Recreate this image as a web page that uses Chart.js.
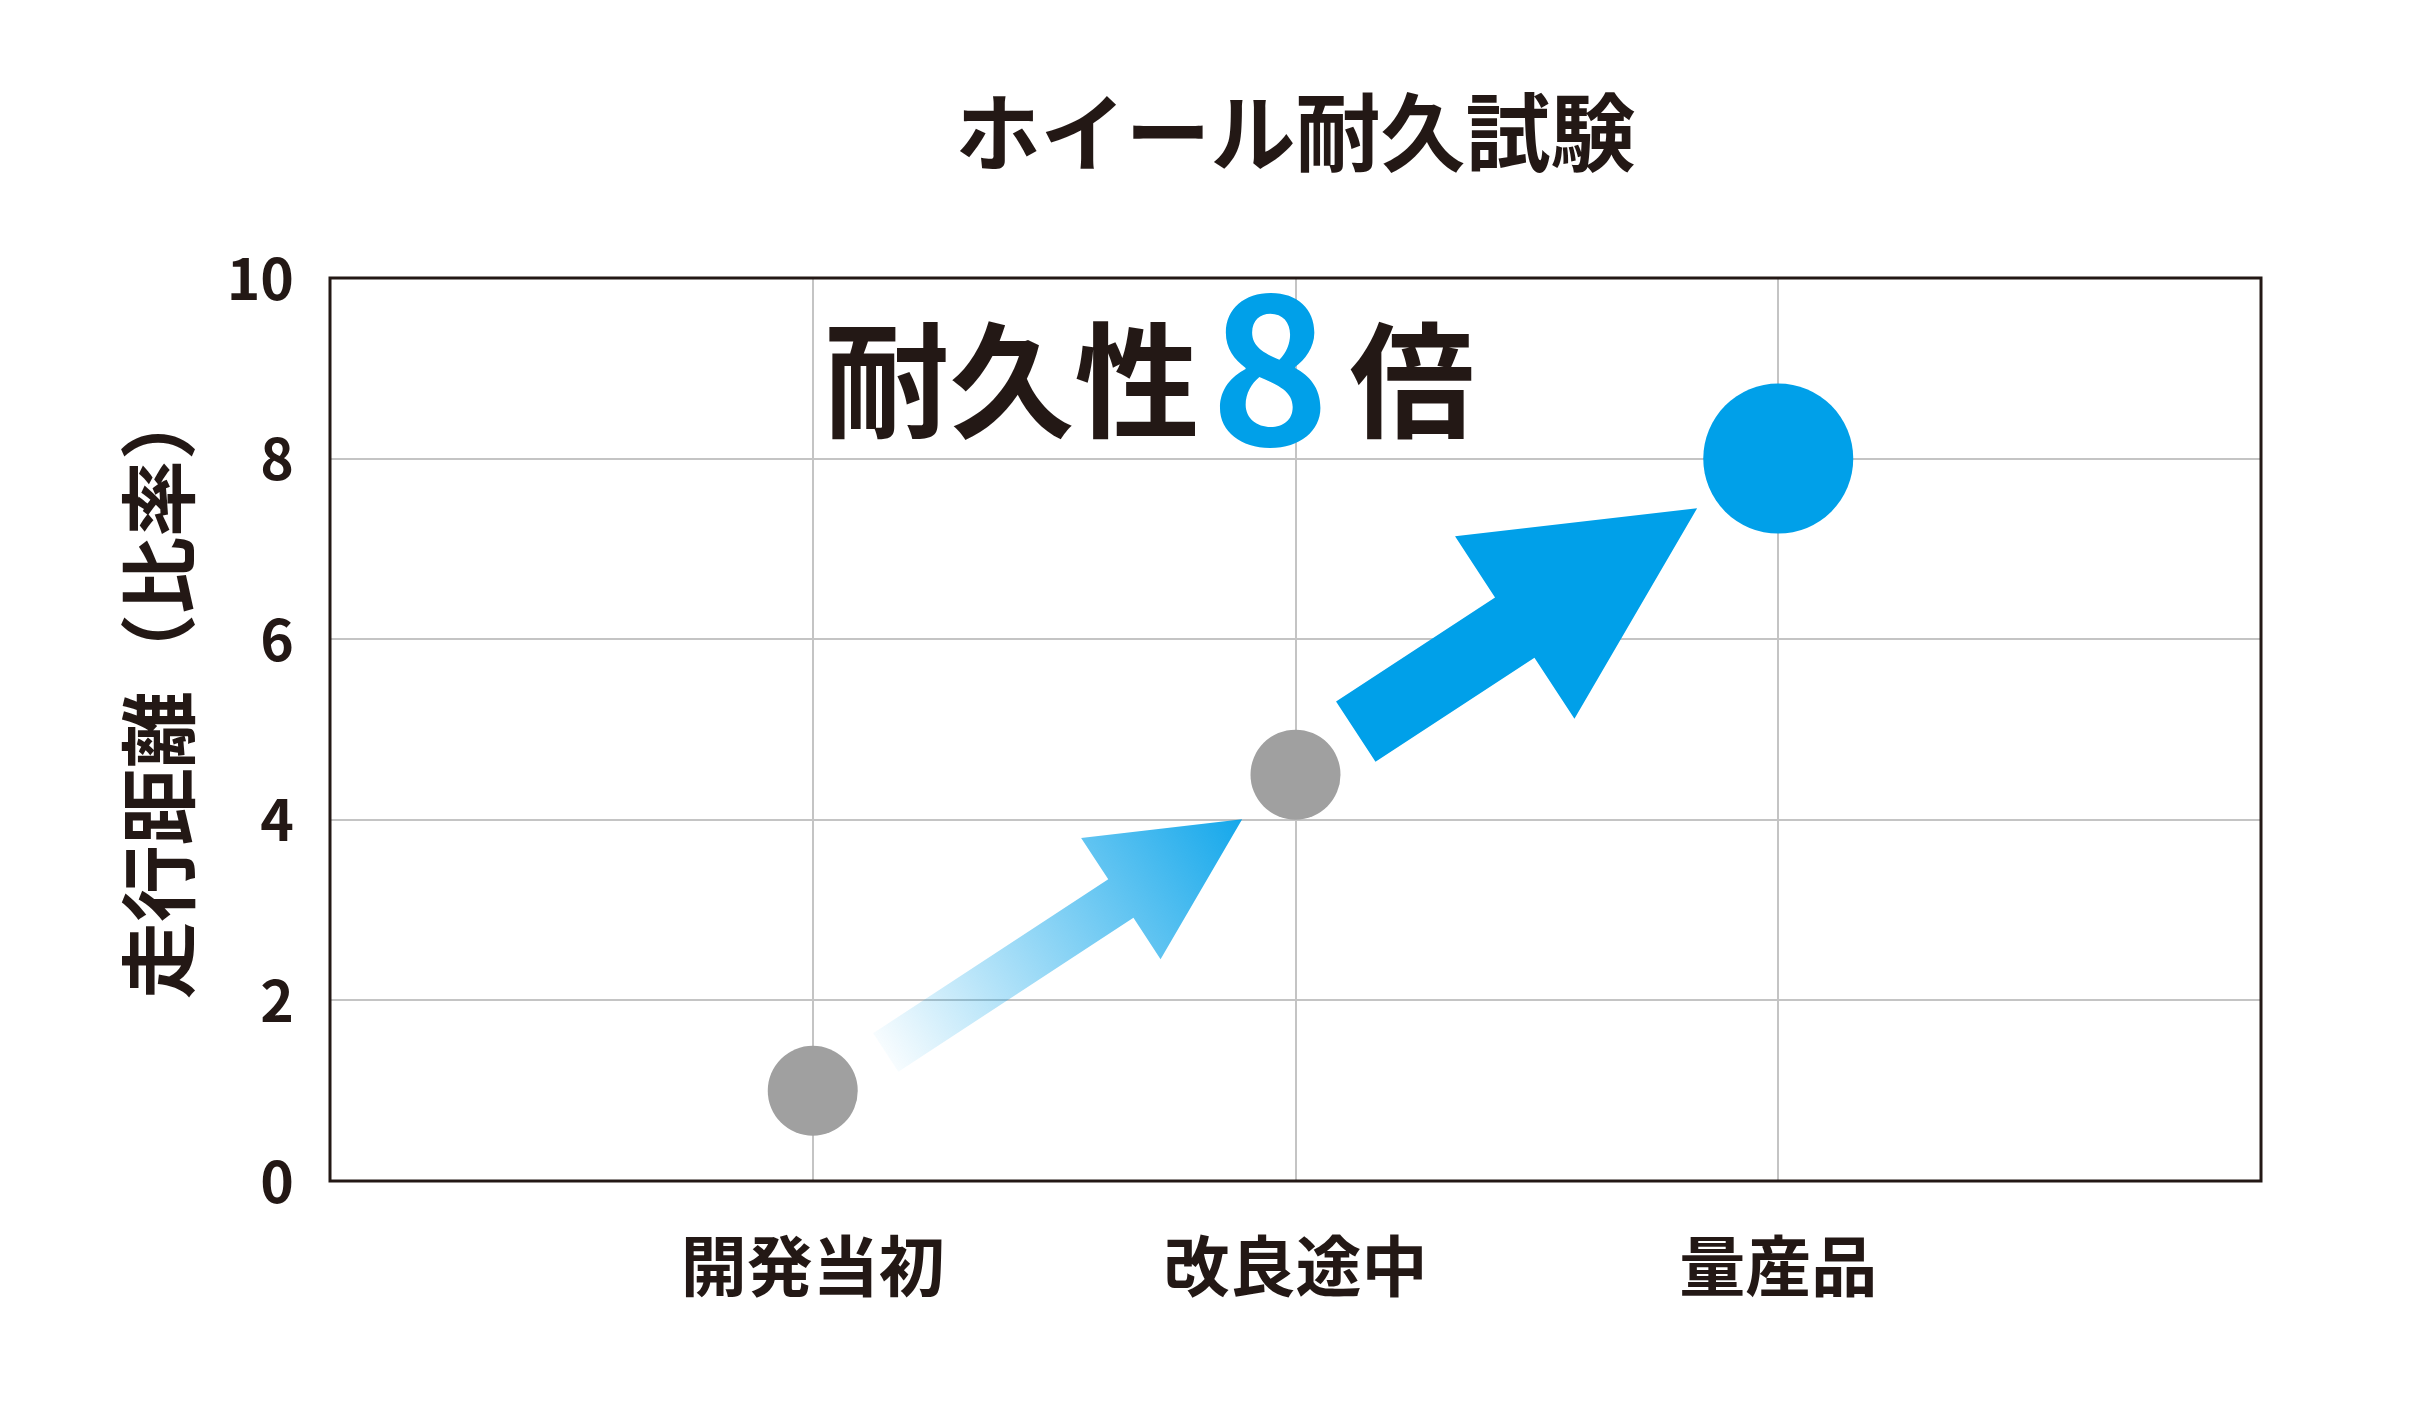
<!DOCTYPE html>
<html lang="ja">
<head>
<meta charset="utf-8">
<title>ホイール耐久試験</title>
<script src="https://cdn.jsdelivr.net/npm/chart.js@4.4.1/dist/chart.umd.min.js"></script>
<style>
  html, body { margin: 0; padding: 0; background: #fff; }
  #wrap { width: 2429px; height: 1403px; }
</style>
</head>
<body>
<div id="wrap"><canvas id="durabilityChart"></canvas></div>
<script>
const categories = ['開発当初', '改良途中', '量産品'];
const distanceRatio = [1.0, 4.5, 8.0];
const yTickValues = [0, 2, 4, 6, 8, 10];
const chartTitle = 'ホイール耐久試験';
const yAxisTitle = '走行距離（比率）';
const headlineParts = ['耐久性', '8', '倍'];

const FONT = "'Noto Sans CJK JP', 'Noto Sans', sans-serif";
const INK = '#231815';
const BLUE = '#00a0e9';
const GRAY = '#a0a0a0';
const GRID = '#c4c4c4';

// one empty slot on each side of the three stages
const xLabels = ['', ...categories, ''];
const yData = [null, ...distanceRatio, null];

// arrow shapes, in px along the line between two stage points
const arrowStyles = [
    { tail: 82, tipGap: 69, shift: 8, shaft: 46, head: 145, headLen: 145, fade: true },
    { tail: 74, tipGap: 95, shift: -3, shaft: 72, head: 218, headLen: 218, fade: false }
];

function drawArrow(ctx, from, to, s) {
    const dx = to.x - from.x;
    const dy = to.y - from.y;
    const len = Math.hypot(dx, dy);
    const ux = dx / len, uy = dy / len;
    const nx = -uy, ny = ux;
    const ox = from.x + nx * s.shift;
    const oy = from.y + ny * s.shift;
    const at = (t, w) => [ox + ux * t + nx * w, oy + uy * t + ny * w];
    const tipT = len - s.tipGap;
    const baseT = tipT - s.headLen;
    const poly = [
        at(s.tail, -s.shaft / 2), at(baseT, -s.shaft / 2), at(baseT, -s.head / 2),
        at(tipT, 0),
        at(baseT, s.head / 2), at(baseT, s.shaft / 2), at(s.tail, s.shaft / 2)
    ];
    ctx.save();
    ctx.beginPath();
    poly.forEach(([px, py], k) => k ? ctx.lineTo(px, py) : ctx.moveTo(px, py));
    ctx.closePath();
    if (s.fade) {
        const [sx, sy] = at(s.tail, 0);
        const [ex, ey] = at(tipT, 0);
        const g = ctx.createLinearGradient(sx, sy, ex, ey);
        g.addColorStop(0, 'rgba(0,160,233,0.03)');
        g.addColorStop(1, 'rgba(0,160,233,0.92)');
        ctx.fillStyle = g;
    } else {
        ctx.fillStyle = BLUE;
    }
    ctx.fill();
    ctx.restore();
}

const arrowPlugin = {
    id: 'stageArrows',
    beforeDatasetsDraw(chart) {
        const { ctx, scales: { x, y } } = chart;
        const pts = distanceRatio.map((v, i) => ({
            x: x.getPixelForValue(i + 1),
            y: y.getPixelForValue(v)
        }));
        arrowStyles.forEach((s, i) => drawArrow(ctx, pts[i], pts[i + 1], s));
    }
};

const headlinePlugin = {
    id: 'headline',
    afterDatasetsDraw(chart) {
        const ctx = chart.ctx;
        ctx.save();
        ctx.textAlign = 'center';
        ctx.textBaseline = 'alphabetic';
        ctx.fillStyle = INK;
        ctx.font = `bold 125px ${FONT}`;
        ctx.fillText(headlineParts[0], 1012, 428);
        ctx.fillText(headlineParts[2], 1412, 428);
        ctx.fillStyle = BLUE;
        ctx.font = `bold 202px ${FONT}`;
        ctx.fillText(headlineParts[1], 1270, 445);
        ctx.restore();
    }
};

const framePlugin = {
    id: 'frame',
    afterDraw(chart) {
        const { ctx, chartArea: a } = chart;
        ctx.save();
        ctx.strokeStyle = INK;
        ctx.lineWidth = 3;
        ctx.strokeRect(a.left, a.top, a.right - a.left, a.bottom - a.top);
        ctx.restore();
    }
};

const lastStage = categories.length;

new Chart(document.getElementById('durabilityChart'), {
    type: 'line',
    data: {
        labels: xLabels,
        datasets: [{
            label: '走行距離',
            data: yData,
            showLine: false,
            pointRadius: c => c.dataIndex === lastStage ? 75 : 45,
            pointHoverRadius: c => c.dataIndex === lastStage ? 75 : 45,
            pointBackgroundColor: c => c.dataIndex === lastStage ? BLUE : GRAY,
            pointBorderWidth: 0
        }]
    },
    options: {
        responsive: true,
        maintainAspectRatio: false,
        animation: false,
        devicePixelRatio: 1,
        layout: { padding: { top: 0, left: 0, right: 168, bottom: 0 } },
        plugins: {
            legend: { display: false },
            tooltip: { enabled: false },
            title: {
                display: true,
                text: chartTitle,
                fullSize: false,
                color: INK,
                font: { family: FONT, size: 85, weight: 'bold' },
                padding: { top: 82, bottom: 94 }
            }
        },
        scales: {
            x: {
                type: 'category',
                offset: false,
                grid: { color: GRID, lineWidth: 2, drawTicks: false },
                border: { display: false },
                ticks: {
                    color: INK,
                    font: { family: FONT, size: 66, weight: 'bold' },
                    padding: 45,
                    autoSkip: false,
                    maxRotation: 0
                },
                afterFit(scale) { scale.height = 222; }
            },
            y: {
                min: 0,
                max: 10,
                afterBuildTicks(scale) {
                    scale.ticks = yTickValues.map(v => ({ value: v }));
                },
                grid: { color: GRID, lineWidth: 2, drawTicks: false },
                border: { display: false },
                ticks: {
                    color: INK,
                    font: { family: FONT, size: 57, weight: 'bold' },
                    padding: 36
                },
                title: {
                    display: true,
                    // leading ideographic space nudges the rotated title upward
                    text: '\u3000' + yAxisTitle,
                    color: INK,
                    font: { family: FONT, size: 77, weight: 'bold' },
                    padding: { top: 113, bottom: 0 }
                },
                afterFit(scale) { scale.width = 330; }
            }
        }
    },
    plugins: [arrowPlugin, headlinePlugin, framePlugin]
});
</script>
</body>
</html>
